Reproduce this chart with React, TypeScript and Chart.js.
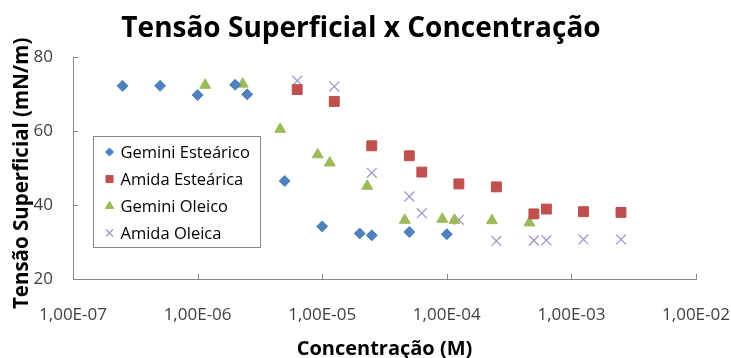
import React, { useEffect, useRef } from 'react';
import { Chart, registerables } from 'chart.js';
import { drawPoint } from 'chart.js/helpers';

Chart.register(...registerables);

const CHART_TITLE = 'Tensão Superficial x Concentração';
const X_TITLE = 'Concentração (M)';
const Y_TITLE = 'Tensão Superficial (mN/m)  ';

const X_TICKS = [1e-7, 1e-6, 1e-5, 1e-4, 1e-3, 1e-2];
const X_TICK_LABELS = ['1,00E-07', '1,00E-06', '1,00E-05', '1,00E-04', '1,00E-03', '1,00E-02'];
const Y_TICKS = [20, 40, 60, 80];

const SERIES_NAMES = ['Gemini Esteárico', 'Amida Esteárica', 'Gemini Oleico', 'Amida Oleica'];

const CONC_GEMINI_EST = [2.5e-7, 5e-7, 1e-6, 2e-6, 2.5e-6, 5e-6, 1e-5, 2e-5, 2.5e-5, 5e-5, 1e-4];
const TS_GEMINI_EST = [72.2, 72.2, 69.7, 72.5, 69.9, 46.5, 34.2, 32.3, 31.8, 32.7, 32.1];

const CONC_AMIDA_EST = [6.3e-6, 1.25e-5, 2.5e-5, 5e-5, 6.3e-5, 1.25e-4, 2.5e-4, 5e-4, 6.3e-4, 1.25e-3, 2.5e-3];
const TS_AMIDA_EST = [71.2, 68.0, 56.0, 53.3, 48.9, 45.7, 44.9, 37.6, 38.9, 38.2, 38.0];

const CONC_GEMINI_OLE = [1.15e-6, 2.3e-6, 4.6e-6, 9.2e-6, 1.15e-5, 2.3e-5, 4.6e-5, 9.2e-5, 1.15e-4, 2.3e-4, 4.6e-4];
const TS_GEMINI_OLE = [72.4, 72.7, 60.5, 53.6, 51.4, 45.1, 35.9, 36.2, 35.9, 35.8, 35.2];

const CONC_AMIDA_OLE = [6.3e-6, 1.25e-5, 2.5e-5, 5e-5, 6.3e-5, 1.25e-4, 2.5e-4, 5e-4, 6.3e-4, 1.25e-3, 2.5e-3];
const TS_AMIDA_OLE = [73.6, 72.0, 48.7, 42.3, 37.8, 36.0, 30.3, 30.4, 30.5, 30.7, 30.7];

const COLORS = ['#4F81BD', '#C0504D', '#9BBB59', '#A595CA'];
const STYLES = ['rectRot', 'rect', 'triangle', 'crossRot'];
const RADII = [5.5, 7, 6.3, 7];
const LEGEND_RADII = [4, 5, 4.8, 5];

const FONT = '"Open Sans", "Liberation Sans", sans-serif';
const AXIS_COLOR = '#868686';

const toPoints = (xs: number[], ys: number[]) => xs.map((x, i) => ({ x, y: ys[i] }));

const titlePlugin = {
  id: 'customTitle',
  afterDraw(chart: any) {
    const ctx = chart.ctx;
    ctx.save();
    ctx.font = `bold 28px ${FONT}`;
    ctx.fillStyle = '#000';
    ctx.textAlign = 'center';
    ctx.textBaseline = 'alphabetic';
    ctx.fillText(CHART_TITLE, 361, 37);
    ctx.restore();
  },
};

const innerTicksPlugin = {
  id: 'innerTicks',
  afterDraw(chart: any) {
    const ctx = chart.ctx;
    const xs = chart.scales.x;
    const ys = chart.scales.y;
    const area = chart.chartArea;
    ctx.save();
    ctx.strokeStyle = AXIS_COLOR;
    ctx.lineWidth = 1;
    ctx.beginPath();
    X_TICKS.forEach((v) => {
      const px = Math.round(xs.getPixelForValue(v)) + 0.5;
      ctx.moveTo(px, area.bottom);
      ctx.lineTo(px, area.bottom - 5);
    });
    Y_TICKS.forEach((v) => {
      const py = Math.round(ys.getPixelForValue(v)) + 0.5;
      ctx.moveTo(area.left, py);
      ctx.lineTo(area.left + 5, py);
    });
    ctx.stroke();
    ctx.restore();
  },
};

const legendPlugin = {
  id: 'insideLegend',
  afterDraw(chart: any) {
    const ctx = chart.ctx;
    ctx.save();
    ctx.fillStyle = '#fff';
    ctx.fillRect(93, 136, 167, 111);
    ctx.strokeStyle = AXIS_COLOR;
    ctx.lineWidth = 1;
    ctx.strokeRect(93.5, 136.5, 167, 111);
    ctx.font = `16.5px ${FONT}`;
    ctx.textAlign = 'left';
    ctx.textBaseline = 'middle';
    chart.data.datasets.forEach((ds: any, i: number) => {
      const y = 152 + i * 27;
      ctx.fillStyle = ds.backgroundColor;
      ctx.strokeStyle = ds.borderColor;
      ctx.lineWidth = ds.borderWidth;
      drawPoint(ctx, { pointStyle: ds.pointStyle, radius: LEGEND_RADII[i], borderWidth: ds.borderWidth, rotation: 0 }, 109.5, y);
      ctx.fillStyle = '#000';
      ctx.fillText(ds.label, 120.5, y + 1);
    });
    ctx.restore();
  },
};

export default function App() {
  const ref = useRef<HTMLCanvasElement | null>(null);

  useEffect(() => {
    if (!ref.current) return;
    const allX = [CONC_GEMINI_EST, CONC_AMIDA_EST, CONC_GEMINI_OLE, CONC_AMIDA_OLE];
    const allY = [TS_GEMINI_EST, TS_AMIDA_EST, TS_GEMINI_OLE, TS_AMIDA_OLE];
    const datasets = SERIES_NAMES.map((name, i) => ({
      label: name,
      data: toPoints(allX[i], allY[i]),
      backgroundColor: COLORS[i],
      borderColor: COLORS[i],
      borderWidth: i === 3 ? 1.3 : 1,
      pointStyle: STYLES[i],
      pointRadius: RADII[i],
      pointHoverRadius: RADII[i],
      showLine: false,
    }));

    const chart = new Chart(ref.current, {
      type: 'scatter',
      data: { datasets },
      plugins: [titlePlugin, innerTicksPlugin, legendPlugin],
      options: {
        animation: false,
        responsive: false,
        maintainAspectRatio: false,
        layout: { padding: { left: 0, right: 35, top: 57, bottom: 0 } },
        plugins: {
          legend: { display: false },
          tooltip: { enabled: false },
          title: { display: false },
        },
        scales: {
          x: {
            type: 'logarithmic',
            min: 1e-7,
            max: 1e-2,
            afterBuildTicks: (scale: any) => {
              scale.ticks = X_TICKS.map((v) => ({ value: v }));
            },
            afterFit: (scale: any) => {
              scale.height = 79;
              scale.paddingLeft = 0;
              scale.paddingRight = 0;
            },
            ticks: {
              autoSkip: false,
              maxRotation: 0,
              padding: 26,
              color: '#404040',
              font: { family: FONT, size: 17 },
              callback: (v: any) => {
                const idx = X_TICKS.findIndex((t) => Math.abs(Math.log10(t) - Math.log10(Number(v))) < 1e-6);
                return idx >= 0 ? X_TICK_LABELS[idx] : '';
              },
            },
            grid: { display: true, drawOnChartArea: false, drawTicks: false, color: AXIS_COLOR },
            border: { display: true, color: AXIS_COLOR, width: 1 },
            title: {
              display: true,
              text: X_TITLE,
              color: '#000',
              font: { family: FONT, size: 20, weight: 'bold', lineHeight: 0.9 },
              padding: { top: 0, bottom: 0 },
            },
          },
          y: {
            type: 'linear',
            min: 20,
            max: 80,
            afterBuildTicks: (scale: any) => {
              scale.ticks = Y_TICKS.map((v) => ({ value: v }));
            },
            afterFit: (scale: any) => {
              scale.width = 73;
            },
            ticks: {
              padding: 20,
              color: '#404040',
              font: { family: FONT, size: 17 },
            },
            grid: { display: true, drawOnChartArea: false, drawTicks: false, color: AXIS_COLOR },
            border: { display: true, color: AXIS_COLOR, width: 1 },
            title: {
              display: true,
              text: Y_TITLE,
              color: '#000',
              font: { family: FONT, size: 20.5, weight: 'bold' },
              padding: { top: 10, bottom: 0 },
            },
          },
        },
      },
    });
    return () => chart.destroy();
  }, []);

  return (
    <div style={{ position: 'absolute', left: 0, top: 0, width: 731, height: 358, background: '#fff' }}>
      <canvas ref={ref} width={731} height={358} style={{ width: 731, height: 358 }} />
    </div>
  );
}
